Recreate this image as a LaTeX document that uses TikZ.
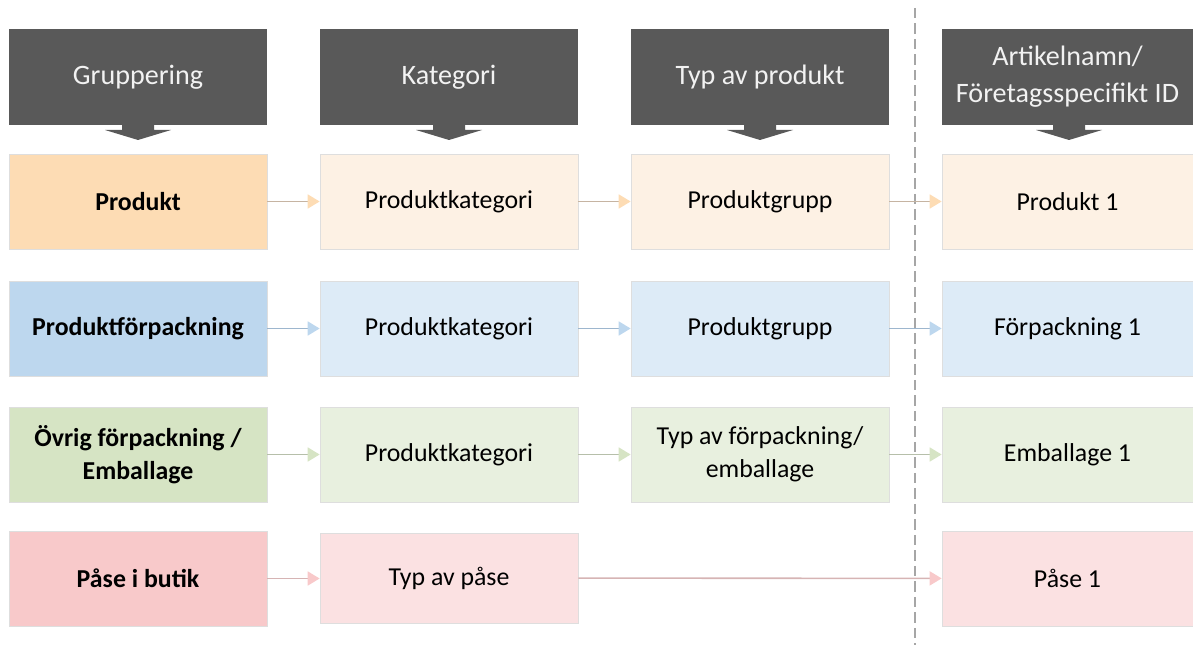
\documentclass[tikz,border=0pt]{standalone}
\usepackage{fontspec}
\setmainfont{Carlito}
\usetikzlibrary{arrows.meta}

\definecolor{headgray}{HTML}{595959}
\definecolor{peach}{HTML}{FDDCB4}
\definecolor{peachlt}{HTML}{FDF1E4}
\definecolor{peachln}{HTML}{C6B4A2}
\definecolor{blue}{HTML}{BDD7EE}
\definecolor{bluelt}{HTML}{DDEBF7}
\definecolor{blueln}{HTML}{9DB6CE}
\definecolor{green}{HTML}{D6E4C4}
\definecolor{greenlt}{HTML}{E8F0DF}
\definecolor{greenln}{HTML}{B6BFAA}
\definecolor{pink}{HTML}{F8C9CA}
\definecolor{pinklt}{HTML}{FBE1E2}
\definecolor{pinkln}{HTML}{D6B4B4}

\tikzset{
    colhead/.style={fill=headgray,text=white!95!black,inner sep=0pt,align=center,
        minimum width=5.16cm,minimum height=1.92cm,font=\fontsize{16}{21}\selectfont},
    cell/.style={draw=black!13,line width=0.4pt,inner sep=0pt,align=center,
        minimum width=5.16cm,minimum height=1.9cm,font=\fontsize{14.7}{19}\selectfont},
    grp/.style={cell,font=\fontsize{14.7}{19}\selectfont\bfseries},
    conn/.style={line width=0.9pt,-{Triangle[length=0.24cm,width=0.28cm,color=#1]}},
}

\begin{document}
\begin{tikzpicture}[x=0.02cm,y=-0.02cm]
    \useasboundingbox (0,0) rectangle (1193,645);
    %% separator
    \draw[line width=1.6pt,black!35,dash pattern=on 0.21cm off 0.1cm] (915,8) -- (915,645);
    %% headers
    \node[colhead] (hGrp) at (138,77) {Gruppering};
    \node[colhead] (hKat) at (449,77) {Kategori};
    \node[colhead] (hTyp) at (760,77) {Typ av produkt};
    \node[colhead,minimum width=5.02cm] (hArt) at (1067.5,77) {Artikelnamn/\\Företagsspecifikt ID};
    \foreach \c in {138,449,760,1069} {
        \fill[headgray] (\c-16,123) -- (\c+16,123) -- (\c+16,130) -- (\c+33,130)
            -- (\c,140) -- (\c-33,130) -- (\c-16,130) -- cycle;
    }
    %% Produkt
    \node[grp,fill=peach] (prodGrp) at (138,201.5) {Produkt};
    \node[cell,fill=peachlt] (prodKat) at (449,201.5) {Produktkategori};
    \node[cell,fill=peachlt] (prodTyp) at (760,201.5) {Produktgrupp};
    \node[cell,fill=peachlt,minimum width=5.02cm] (prodArt) at (1067.5,201.5) {Produkt 1};
    %% Produktförpackning
    \node[grp,fill=blue] (forpGrp) at (138,328.5) {Produktförpackning};
    \node[cell,fill=bluelt] (forpKat) at (449,328.5) {Produktkategori};
    \node[cell,fill=bluelt] (forpTyp) at (760,328.5) {Produktgrupp};
    \node[cell,fill=bluelt,minimum width=5.02cm] (forpArt) at (1067.5,328.5) {Förpackning 1};
    %% Övrig förpackning
    \node[grp,fill=green] (ovrGrp) at (138,454.5) {Övrig förpackning /\\Emballage};
    \node[cell,fill=greenlt] (ovrKat) at (449,454.5) {Produktkategori};
    \node[cell,fill=greenlt] (ovrTyp) at (760,454.5) {Typ av förpackning/\\emballage};
    \node[cell,fill=greenlt,minimum width=5.02cm] (ovrArt) at (1067.5,454.5) {Emballage 1};
    %% Påse i butik
    \node[grp,fill=pink] (paseGrp) at (138,578.5) {Påse i butik};
    \node[cell,fill=pinklt,minimum height=1.8cm] (paseKat) at (449,578) {Typ av påse};
    \node[cell,fill=pinklt,minimum width=5.02cm] (paseArt) at (1067.5,578.5) {Påse 1};
    %% connectors
    \draw[conn=peach,draw=peachln] (prodGrp) -- (prodKat);
    \draw[conn=peach,draw=peachln] (prodKat) -- (prodTyp);
    \draw[conn=peach,draw=peachln] (prodTyp) -- (prodArt);
    \draw[conn=blue,draw=blueln] (forpGrp) -- (forpKat);
    \draw[conn=blue,draw=blueln] (forpKat) -- (forpTyp);
    \draw[conn=blue,draw=blueln] (forpTyp) -- (forpArt);
    \draw[conn=green,draw=greenln] (ovrGrp) -- (ovrKat);
    \draw[conn=green,draw=greenln] (ovrKat) -- (ovrTyp);
    \draw[conn=green,draw=greenln] (ovrTyp) -- (ovrArt);
    \draw[conn=pink,draw=pinkln] (paseGrp) -- (paseGrp-|paseKat.west);
    \draw[conn=pink,draw=pinkln] (paseKat) -- (paseArt);
\end{tikzpicture}
\end{document}
